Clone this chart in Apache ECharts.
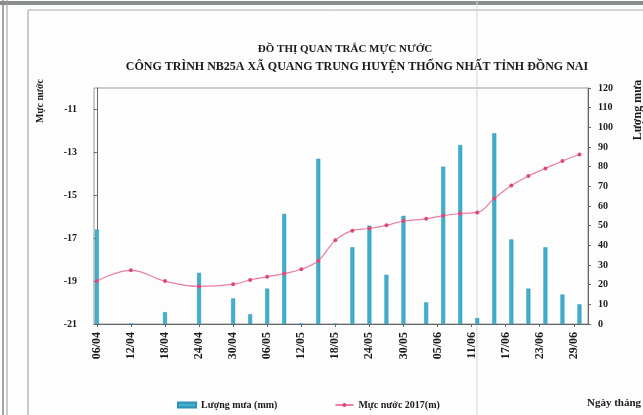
<!DOCTYPE html>
<html>
<head>
<meta charset="utf-8">
<script src="https://cdn.jsdelivr.net/npm/echarts@6/dist/echarts.min.js"></script>
<style>
  html, body { margin: 0; padding: 0; background: #fdfdfd; }
  #echarts { width: 643px; height: 415px; }
</style>
</head>
<body>
<div id="echarts"></div>
<script>
// ngày quan trắc (dd/mm, năm 2017)
const dates = ['06/04', '12/04', '18/04', '24/04', '30/04', '03/05', '06/05', '09/05', '12/05',
  '15/05', '18/05', '21/05', '24/05', '27/05', '30/05', '03/06', '06/06', '09/06', '12/06',
  '15/06', '18/06', '21/06', '24/06', '27/06', '30/06'];
// lượng mưa (mm)
const rain = [48, 0, 6, 26, 13, 5, 18, 56, 0, 84, 0, 39, 50, 25, 55, 11, 80, 91, 3, 97, 43, 18, 39, 15, 10];
// mực nước 2017 (m)
const level = [-19.0, -18.5, -19.0, -19.25, -19.15, -18.95, -18.8, -18.65, -18.45, -18.05, -17.1,
  -16.65, -16.55, -16.4, -16.2, -16.1, -15.95, -15.85, -15.8, -15.15, -14.55, -14.1, -13.75, -13.4, -13.1];
// nhãn trục
const xTicks = ['06/04', '12/04', '18/04', '24/04', '30/04', '06/05', '12/05', '18/05', '24/05',
  '30/05', '05/06', '11/06', '17/06', '23/06', '29/06'];
const leftTicks = [-21, -19, -17, -15, -13, -11];

// đổi dd/mm sang số ngày kể từ 06/04
function dayOf(s) {
  const [d, m] = s.split('/').map(Number);
  return (Date.UTC(2017, m - 1, d) - Date.UTC(2017, 3, 6)) / 86400000;
}
const tickDays = xTicks.map(dayOf);
const labelByDay = {};
xTicks.forEach((t, i) => { labelByDay[tickDays[i]] = t; });

const serif = '"Liberation Serif", "DejaVu Serif", serif';
const chart = echarts.init(document.getElementById('echarts'));

const option = {
  backgroundColor: '#fdfdfd',
  animation: false,
  title: [
    {
      text: 'ĐỒ THỊ QUAN TRẮC MỰC NƯỚC',
      left: 340, top: 39, textAlign: 'center',
      textStyle: { fontFamily: serif, fontWeight: 'bold', fontSize: 11, color: '#1a1a1a' }
    },
    {
      text: 'CÔNG TRÌNH NB25A XÃ QUANG TRUNG HUYỆN THỐNG NHẤT TỈNH ĐỒNG NAI',
      left: 352, top: 56, textAlign: 'center',
      textStyle: { fontFamily: serif, fontWeight: 'bold', fontSize: 12, color: '#1a1a1a' }
    }
  ],
  grid: {
    left: 94, right: 55, top: 88, bottom: 91,
    show: true, borderColor: '#999', borderWidth: 1, backgroundColor: 'transparent'
  },
  legend: {
    left: 172, top: 395,
    itemGap: 57, itemWidth: 18, itemHeight: 5,
    textStyle: { fontFamily: serif, fontWeight: 'bold', fontSize: 10, color: '#1a1a1a' },
    data: [
      { name: 'Lượng mưa (mm)', icon: 'rect' },
      { name: 'Mực nước 2017(m)' }
    ]
  },
  xAxis: {
    type: 'value',
    min: -0.5, max: 86.5,
    splitLine: { show: false },
    axisLine: { lineStyle: { color: '#666' } },
    axisTick: { customValues: tickDays, length: 3, lineStyle: { color: '#666' } },
    axisLabel: {
      customValues: tickDays,
      rotate: 90, margin: 8,
      fontFamily: serif, fontWeight: 'bold', fontSize: 12, color: '#1a1a1a',
      formatter: v => labelByDay[v] || ''
    }
  },
  yAxis: [
    {
      type: 'value',
      min: -21, max: -10,
      splitLine: { show: false },
      axisLine: { show: true, lineStyle: { color: '#666' } },
      axisTick: { show: true, customValues: leftTicks, length: 3, lineStyle: { color: '#666' } },
      axisLabel: {
        customValues: leftTicks, margin: 17,
        fontFamily: serif, fontWeight: 'bold', fontSize: 10, color: '#1a1a1a'
      }
    },
    {
      type: 'value',
      position: 'right',
      min: 0, max: 120, interval: 10,
      splitLine: { show: false },
      axisLine: { show: true, lineStyle: { color: '#666' } },
      axisTick: { show: true, length: 3, lineStyle: { color: '#666' } },
      axisLabel: { margin: 10, fontFamily: serif, fontWeight: 'bold', fontSize: 10, color: '#1a1a1a' }
    }
  ],
  series: [
    {
      name: 'Lượng mưa (mm)',
      type: 'bar',
      yAxisIndex: 1,
      barWidth: 4,
      itemStyle: { color: '#3eb0cb', borderColor: '#2f8fb8', borderWidth: 0.5 },
      data: dates.map((d, i) => [dayOf(d), rain[i]])
    },
    {
      name: 'Mực nước 2017(m)',
      type: 'line',
      yAxisIndex: 0,
      smooth: 0.4,
      symbol: 'circle',
      symbolSize: 4,
      lineStyle: { color: '#ec7fa0', width: 1.2 },
      itemStyle: { color: '#dc4b74' },
      data: dates.map((d, i) => [dayOf(d), level[i]])
    }
  ],
  graphic: [
    // khung trang giấy
    { type: 'rect', shape: { x: 0, y: 1, width: 643, height: 4 }, style: { fill: '#8a8f8c' } },
    { type: 'line', shape: { x1: 3, y1: 0, x2: 3, y2: 415 }, style: { stroke: '#888', lineWidth: 1.5 } },
    { type: 'line', shape: { x1: 7, y1: 0, x2: 7, y2: 415 }, style: { stroke: '#999', lineWidth: 1 } },
    { type: 'line', shape: { x1: 28, y1: 10, x2: 28, y2: 415 }, style: { stroke: '#999', lineWidth: 1 } },
    { type: 'line', shape: { x1: 28, y1: 10, x2: 643, y2: 10 }, style: { stroke: '#aaa', lineWidth: 1 } },
    { type: 'line', shape: { x1: 477, y1: 0, x2: 477, y2: 415 }, style: { stroke: '#d4d4d4', lineWidth: 1 } },
    // tên trục
    {
      type: 'text', x: 40, y: 101, rotation: Math.PI / 2,
      style: { text: 'Mực nước', align: 'center', verticalAlign: 'middle',
        font: 'bold 10px "Liberation Serif"', fill: '#1a1a1a' }
    },
    {
      type: 'text', x: 638, y: 110, rotation: Math.PI / 2,
      style: { text: 'Lượng mưa', align: 'center', verticalAlign: 'middle',
        font: 'bold 12px "Liberation Serif"', fill: '#1a1a1a' }
    },
    {
      type: 'text', x: 587, y: 403,
      style: { text: 'Ngày tháng', align: 'left', verticalAlign: 'middle',
        font: 'bold 11px "Liberation Serif"', fill: '#1a1a1a' }
    }
  ]
};
chart.setOption(option);
</script>
</body>
</html>
